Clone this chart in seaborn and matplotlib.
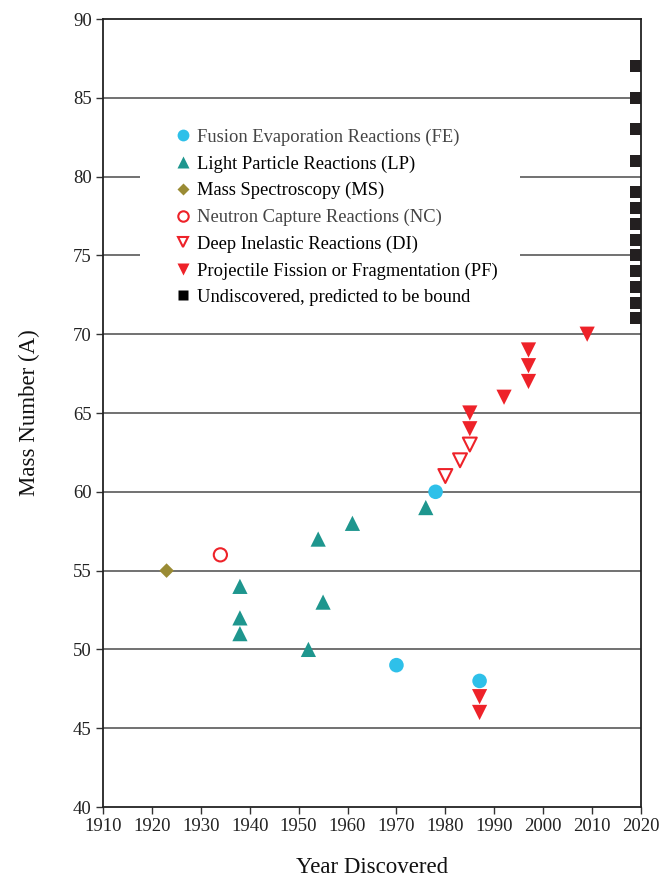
import pandas as pd
import matplotlib.pyplot as plt
from matplotlib.lines import Line2D
from matplotlib.patches import Rectangle
import seaborn as sns

# ── data ─────────────────────────────────────────────────────
fe_year = [1970, 1978, 1987]
fe_mass = [49, 60, 48]

lp_year = [1938, 1938, 1938, 1952, 1954, 1955, 1961, 1976]
lp_mass = [54, 52, 51, 50, 57, 53, 58, 59]

ms_year = [1923]
ms_mass = [55]

nc_year = [1934]
nc_mass = [56]

di_year = [1980, 1983, 1985]
di_mass = [61, 62, 63]

pf_year = [1985, 1985, 1987, 1987, 1992, 1997, 1997, 1997, 2009]
pf_mass = [64, 65, 47, 46, 66, 67, 68, 69, 70]

un_year = [2019] * 13
un_mass = [71, 72, 73, 74, 75, 76, 77, 78, 79, 81, 83, 85, 87]

CYAN = '#2ec0e9'
TEAL = '#1e968e'
OLIVE = '#9a8b34'
RED = '#ee2229'
BLACK = '#231f20'

# ── style ────────────────────────────────────────────────────
sns.set_style('white')
plt.rcParams['font.family'] = ['Liberation Serif', 'DejaVu Serif']

fig = plt.figure(figsize=(6.67, 8.84), dpi=100)
ax = fig.add_axes([0.1544, 0.0871, 0.8066, 0.8914])

for y in range(45, 90, 5):
    ax.axhline(y, color='#4a4a4a', lw=1.1, zorder=0)

# white box behind the legend hides part of the grid
ax.add_patch(Rectangle((0.069, 0.618), 0.706, 0.27, transform=ax.transAxes,
                       facecolor='white', edgecolor='none', zorder=1))

def pts(x, y):
    return pd.DataFrame({'year': x, 'mass': y})

sns.scatterplot(data=pts(fe_year, fe_mass), x='year', y='mass', ax=ax,
                marker='o', s=110, color=CYAN, edgecolor='none', zorder=3)
sns.scatterplot(data=pts(lp_year, lp_mass), x='year', y='mass', ax=ax,
                marker='^', s=120, color=TEAL, edgecolor='none', zorder=3)
sns.scatterplot(data=pts(ms_year, ms_mass), x='year', y='mass', ax=ax,
                marker='D', s=55, color=OLIVE, edgecolor='none', zorder=3)
sns.scatterplot(data=pts(nc_year, nc_mass), x='year', y='mass', ax=ax,
                marker='o', s=90, facecolor='none', edgecolor=RED,
                linewidth=1.5, zorder=3)
sns.scatterplot(data=pts(di_year, di_mass), x='year', y='mass', ax=ax,
                marker='v', s=100, facecolor='none', edgecolor=RED,
                linewidth=1.5, zorder=3)
sns.scatterplot(data=pts(pf_year, pf_mass), x='year', y='mass', ax=ax,
                marker='v', s=120, color=RED, edgecolor='none', zorder=3)
sns.scatterplot(data=pts(un_year, un_mass), x='year', y='mass', ax=ax,
                marker='s', s=75, color=BLACK, edgecolor='none', zorder=3)

ax.set_xlim(1910, 2020)
ax.set_ylim(40, 90)
ax.set_xticks(range(1910, 2021, 10))
ax.set_yticks(range(40, 91, 5))
ax.tick_params(axis='both', direction='out', length=5, width=1,
               color='#333333', labelsize=13.5, labelcolor='#222222',
               bottom=True, left=True, pad=3)
for s in ax.spines.values():
    s.set_color('#222222')
    s.set_linewidth(1.3)
    s.set_zorder(4)

ax.set_xlabel('Year Discovered', fontsize=16.5, color='#111111', labelpad=16)
ax.set_ylabel('Mass Number (A)', fontsize=16.5, color='#111111', labelpad=24)

# ── legend ───────────────────────────────────────────────────
handles = [
    Line2D([], [], ls='none', marker='o', ms=8.5, mfc=CYAN, mec='none'),
    Line2D([], [], ls='none', marker='^', ms=8.5, mfc=TEAL, mec='none'),
    Line2D([], [], ls='none', marker='D', ms=6, mfc=OLIVE, mec='none'),
    Line2D([], [], ls='none', marker='o', ms=7.5, mfc='none', mec=RED, mew=1.5),
    Line2D([], [], ls='none', marker='v', ms=7.5, mfc='none', mec=RED, mew=1.5),
    Line2D([], [], ls='none', marker='v', ms=8.5, mfc=RED, mec='none'),
    Line2D([], [], ls='none', marker='s', ms=7.5, mfc='black', mec='none'),
]
labels = ['Fusion Evaporation Reactions (FE)',
          'Light Particle Reactions (LP)',
          'Mass Spectroscopy (MS)',
          'Neutron Capture Reactions (NC)',
          'Deep Inelastic Reactions (DI)',
          'Projectile Fission or Fragmentation (PF)',
          'Undiscovered, predicted to be bound']
leg = ax.legend(handles, labels, loc='upper left',
                bbox_to_anchor=(0.135, 0.861), frameon=False,
                fontsize=13.3, handlelength=0.8, handletextpad=0.36,
                labelspacing=0.51, borderpad=0, borderaxespad=0)
leg.set_zorder(5)
for i, t in enumerate(leg.get_texts()):
    t.set_color('#444444' if i in (0, 3) else '#000000')

fig.savefig('out.png', dpi=100, facecolor='white')
